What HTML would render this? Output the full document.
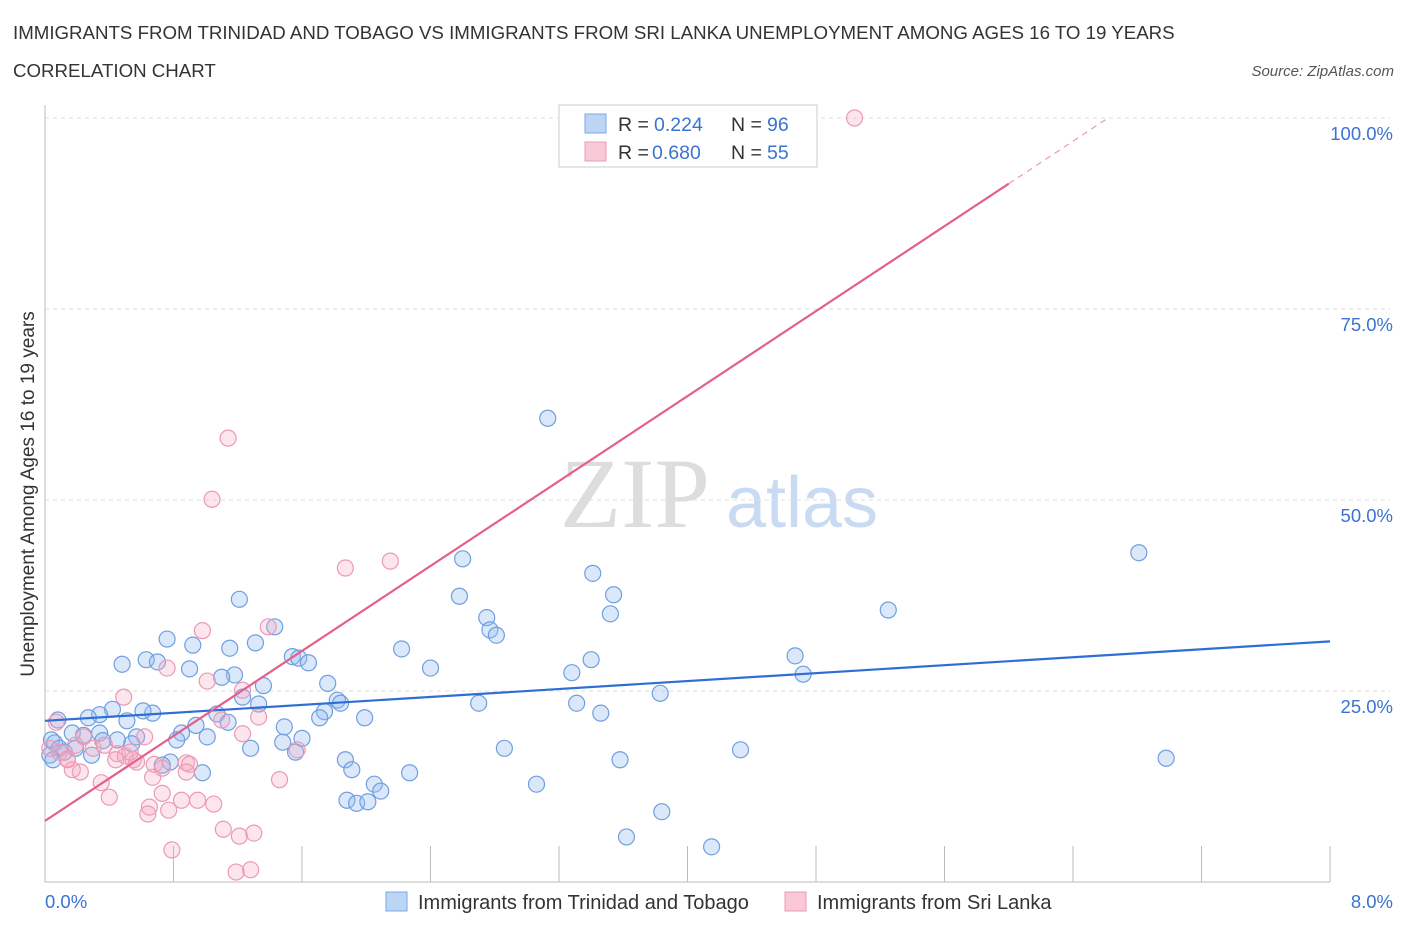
<!DOCTYPE html>
<html><head><meta charset="utf-8"><style>
body{margin:0;background:#fff;font-family:"Liberation Sans",sans-serif;}
svg text{font-family:"Liberation Sans",sans-serif;}
</style></head><body>
<svg id="chart" width="1406" height="930" xmlns="http://www.w3.org/2000/svg">
<text x="13" y="39" font-size="18.7" fill="#333">IMMIGRANTS FROM TRINIDAD AND TOBAGO VS IMMIGRANTS FROM SRI LANKA UNEMPLOYMENT AMONG AGES 16 TO 19 YEARS</text>
<text x="13" y="77" font-size="18.7" fill="#333">CORRELATION CHART</text>
<text x="1394" y="76" font-size="15" font-style="italic" fill="#555" text-anchor="end">Source: ZipAtlas.com</text>
<g>
<text x="635" y="527" font-size="100" style="font-family:'Liberation Serif',serif" fill="#ddd" text-anchor="middle">ZIP</text>
<text x="802" y="527" font-size="72" fill="#c9dbf2" text-anchor="middle">atlas</text>
</g>
<g id="grid"></g>
<g id="axes"></g>
<g id="marks"></g>
<text transform="translate(34,494) rotate(-90)" font-size="19" fill="#333" text-anchor="middle">Unemployment Among Ages 16 to 19 years</text>
<g>
<rect x="559" y="105" width="258" height="62" fill="#fff" stroke="#ccc"/>
<rect x="585" y="114" width="21" height="19" fill="#bcd5f5" stroke="#7aa8e6"/>
<text x="618" y="131" font-size="19.5" fill="#333">R =</text>
<text x="654" y="131" font-size="19.5" fill="#3a73d1">0.224</text>
<text x="731" y="131" font-size="19.5" fill="#333">N =</text>
<text x="767" y="131" font-size="19.5" fill="#3a73d1">96</text>
<rect x="585" y="142" width="21" height="19" fill="#f9c9d8" stroke="#eb9ab5"/>
<text x="618" y="159" font-size="19.5" fill="#333">R =</text>
<text x="652" y="159" font-size="19.5" fill="#3a73d1">0.680</text>
<text x="731" y="159" font-size="19.5" fill="#333">N =</text>
<text x="767" y="159" font-size="19.5" fill="#3a73d1">55</text>
</g>
<g>
<rect x="386" y="892" width="21" height="19" fill="#bcd5f5" stroke="#7aa8e6"/>
<text x="418" y="909" font-size="20" fill="#333">Immigrants from Trinidad and Tobago</text>
<rect x="785" y="892" width="21" height="19" fill="#f9c9d8" stroke="#eb9ab5"/>
<text x="817" y="909" font-size="20" fill="#333">Immigrants from Sri Lanka</text>
</g>
</svg>
<script>
const blueX=[3.13,6.81,5.25,6.98,2.60,3.41,3.54,3.52,2.58,2.75,2.77,2.81,2.22,2.40,3.28,3.40,4.67,4.72,3.83,3.31,3.46,2.70,2.86,3.06,3.58,4.33,3.62,3.84,4.15,1.21,1.43,0.76,0.92,1.15,1.31,0.48,0.63,0.70,0.90,1.18,1.10,1.36,1.54,1.58,1.64,1.76,1.82,1.84,1.99,1.74,1.71,1.23,1.33,1.07,1.14,1.49,1.60,1.48,1.56,1.28,1.01,0.94,0.85,0.82,0.67,0.61,0.42,0.51,0.34,0.27,0.08,0.34,0.57,0.54,0.45,0.36,0.17,0.24,0.04,0.06,0.09,0.12,0.19,0.29,0.03,0.05,0.78,0.73,0.98,1.87,1.91,2.05,2.09,1.88,1.94,2.01,2.27];
const blueY=[60.7,43.1,35.6,16.2,42.3,40.4,37.6,35.1,37.4,34.6,33.0,32.3,30.5,28.0,27.4,29.1,29.6,27.2,24.7,23.4,22.1,23.4,17.5,12.8,16.0,17.3,5.9,9.2,4.6,37.0,33.4,31.8,31.0,30.6,31.3,28.5,29.1,28.8,27.9,27.1,26.8,25.7,29.5,29.3,28.7,26.0,23.8,23.4,21.5,22.3,21.5,24.2,23.3,22.0,20.9,20.3,18.8,18.3,17.0,17.5,19.0,20.5,19.5,18.6,22.1,22.4,22.6,21.1,21.9,21.5,21.2,19.5,19.0,18.1,18.6,18.5,19.5,19.2,18.6,18.2,17.5,17.0,17.5,16.6,16.6,16.0,15.7,15.3,14.3,16.0,14.7,12.8,11.9,10.7,10.3,10.5,14.3];
const pinkX=[5.04,1.14,1.04,1.87,2.15,0.98,1.39,1.01,0.76,0.49,1.23,1.33,1.10,1.23,0.07,0.24,0.30,0.09,0.14,0.17,0.22,0.35,0.40,0.45,0.50,0.55,0.57,0.62,0.68,0.73,0.67,0.88,0.90,0.88,0.73,0.65,0.64,0.77,0.85,0.95,1.05,1.11,1.21,1.30,0.79,1.19,1.28,1.46,1.57,0.14,0.03,0.19,0.37,0.44,0.53];
const pinkY=[100,58.1,50.1,41.1,42.0,32.9,33.4,26.3,28.0,24.2,25.1,21.6,21.2,19.4,20.9,19.0,17.5,17.0,16.1,14.7,14.4,13.0,11.1,16.8,16.5,16.0,15.7,19.0,15.4,14.9,13.7,15.6,15.4,14.4,11.6,9.8,8.9,9.4,10.7,10.7,10.2,6.9,6.0,6.4,4.2,1.3,1.6,13.4,17.3,16.0,17.5,17.9,17.9,16.0,17.0];
const blueTrend=[21.1,1.30];
const pinkTrend=[8.0,13.9];
const yTicks=[25,50,75,100];
const yTickLabels=["25.0%","50.0%","75.0%","100.0%"];
const xTicks=[0,0.8,1.6,2.4,3.2,4.0,4.8,5.6,6.4,7.2,8.0];

const X0=45,X1=1330,Y0=882,Y100=118;
const sx=v=>X0+(v/8)*(X1-X0);
const sy=v=>Y0-(v/100)*(Y0-Y100);
const NS="http://www.w3.org/2000/svg";
function mk(tag,attrs,parent){const e=document.createElementNS(NS,tag);for(const k in attrs)e.setAttribute(k,attrs[k]);parent.appendChild(e);return e;}
const grid=document.getElementById('grid'),axes=document.getElementById('axes'),marks=document.getElementById('marks');
yTicks.forEach((t,i)=>{
 const l=mk('line',{x1:X0,x2:X1+60,y1:sy(t),y2:sy(t),stroke:'#ddd','stroke-dasharray':'4,4'},grid);
 
 
 const tx=mk('text',{x:1393,y:sy(t)+22,'font-size':18.5,fill:'#3a73d1','text-anchor':'end'},axes);
 tx.textContent=yTickLabels[i];
 
 
});
const ax=mk('line',{x1:X0,x2:X1,y1:Y0,y2:Y0,stroke:'#bbb'},axes);


const ay=mk('line',{x1:X0,x2:X0,y1:105,y2:Y0,stroke:'#bbb'},axes);


xTicks.forEach(t=>{
 const l=mk('line',{x1:sx(t),x2:sx(t),y1:Y0,y2:Y0-36,stroke:'#bbb'},axes);
 
 
});
const xl0=mk('text',{x:45,y:908,'font-size':18.5,fill:'#3a73d1'},axes);xl0.textContent='0.0%';


const xl1=mk('text',{x:1393,y:908,'font-size':18.5,fill:'#3a73d1','text-anchor':'end'},axes);xl1.textContent='8.0%';



blueX.forEach((x,i)=>{
 const c=mk('circle',{cx:sx(x),cy:sy(blueY[i]),r:8,fill:'rgba(150,190,240,0.35)',stroke:'#6f9fe0','stroke-width':1.2},marks);
 
 
});
pinkX.forEach((x,i)=>{
 const c=mk('circle',{cx:sx(x),cy:sy(pinkY[i]),r:8,fill:'rgba(245,170,195,0.3)',stroke:'#eb9ab5','stroke-width':1.2},marks);
 
 
});
const bl=mk('line',{x1:sx(0),y1:sy(blueTrend[0]),x2:sx(8),y2:sy(blueTrend[0]+8*blueTrend[1]),stroke:'#2f6fd4','stroke-width':2.2},marks);


const xEnd=6.0,xMax=(100-pinkTrend[0])/pinkTrend[1];
const pl=mk('line',{x1:sx(0),y1:sy(pinkTrend[0]),x2:sx(xEnd),y2:sy(pinkTrend[0]+xEnd*pinkTrend[1]),stroke:'#e4608a','stroke-width':2.2},marks);


const pd=mk('line',{x1:sx(xEnd),y1:sy(pinkTrend[0]+xEnd*pinkTrend[1]),x2:sx(xMax),y2:sy(100),stroke:'#eb9ab5','stroke-width':1.2,'stroke-dasharray':'6,5'},marks);


</script>
</body></html>
